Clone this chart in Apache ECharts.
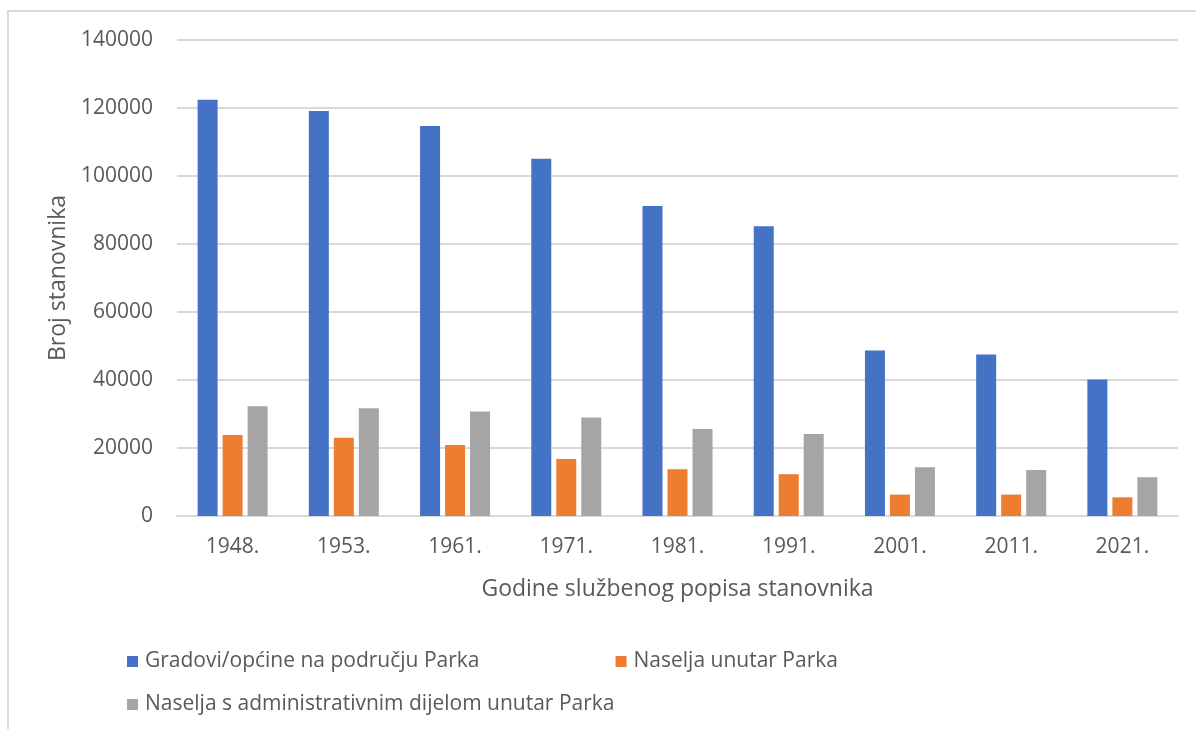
<!DOCTYPE html>
<html>
<head>
<meta charset="utf-8">
<script src="https://cdn.jsdelivr.net/npm/echarts@6/dist/echarts.min.js"></script>
<style>
  html, body { margin: 0; padding: 0; background: #fff; }
  #chart { width: 1196px; height: 729px; }
</style>
</head>
<body>
<div id="chart"></div>
<script>
// godine popisa
const years = ['1948.', '1953.', '1961.', '1971.', '1981.', '1991.', '2001.', '2011.', '2021.'];
// Gradovi/općine na području Parka
const gradovi = [122400, 119100, 114700, 105100, 91200, 85200, 48700, 47500, 40150];
// Naselja unutar Parka
const naseljaUnutar = [23800, 23000, 20900, 16800, 13750, 12300, 6300, 6300, 5500];
// Naselja s administrativnim dijelom unutar Parka
const naseljaAdmin = [32300, 31700, 30700, 29000, 25600, 24150, 14350, 13550, 11400];
const yTicks = [0, 20000, 40000, 60000, 80000, 100000, 120000, 140000];

const names = [
  'Gradovi/općine na području Parka',
  'Naselja unutar Parka',
  'Naselja s administrativnim dijelom unutar Parka'
];

const font = 'Open Sans';
const textColor = '#595959';

const myChart = echarts.init(document.getElementById('chart'));

const option = {
  animation: false,
  color: ['#4472C4', '#ED7D31', '#A5A5A5'],
  textStyle: { fontFamily: font },
  graphic: [{
    type: 'rect',
    shape: { x: 8, y: 11, width: 1200, height: 740 },
    style: { fill: 'none', stroke: '#d9d9d9', lineWidth: 2 },
    silent: true
  }],
  grid: { left: 177, right: 18, top: 40, bottom: 213 },
  legend: [
    {
      data: [names[0], names[1]],
      left: 122, top: 646,
      itemWidth: 11, itemHeight: 11, itemGap: 136,
      icon: 'rect',
      textStyle: { color: textColor, fontSize: 21, fontFamily: font, padding: [0, 0, 0, 2] }
    },
    {
      data: [names[2]],
      left: 122, top: 689,
      itemWidth: 11, itemHeight: 11,
      icon: 'rect',
      textStyle: { color: textColor, fontSize: 21, fontFamily: font, padding: [0, 0, 0, 2] }
    }
  ],
  xAxis: {
    type: 'category',
    data: years,
    name: 'Godine službenog popisa stanovnika',
    nameLocation: 'middle',
    nameGap: 62,
    nameTextStyle: { color: textColor, fontSize: 23, fontFamily: font },
    axisLine: { lineStyle: { color: '#d9d9d9', width: 2 } },
    axisTick: { show: false },
    axisLabel: { color: textColor, fontSize: 21, margin: 21, fontFamily: font }
  },
  yAxis: {
    type: 'value',
    min: 0,
    max: 140000,
    interval: 20000,
    name: 'Broj stanovnika',
    nameLocation: 'middle',
    nameGap: 106,
    nameTextStyle: { color: textColor, fontSize: 23, fontFamily: font },
    axisLine: { show: false },
    axisTick: { show: false },
    splitLine: { lineStyle: { color: '#d9d9d9', width: 2 } },
    axisLabel: {
      color: textColor, fontSize: 21, margin: 24, fontFamily: font,
      formatter: function (v) { return yTicks.indexOf(v) >= 0 ? String(v) : ''; }
    }
  },
  series: [
    { name: names[0], type: 'bar', data: gradovi, barWidth: 20, barGap: '25%' },
    { name: names[1], type: 'bar', data: naseljaUnutar, barWidth: 20, barGap: '25%' },
    { name: names[2], type: 'bar', data: naseljaAdmin, barWidth: 20, barGap: '25%' }
  ]
};

myChart.setOption(option);
</script>
</body>
</html>
